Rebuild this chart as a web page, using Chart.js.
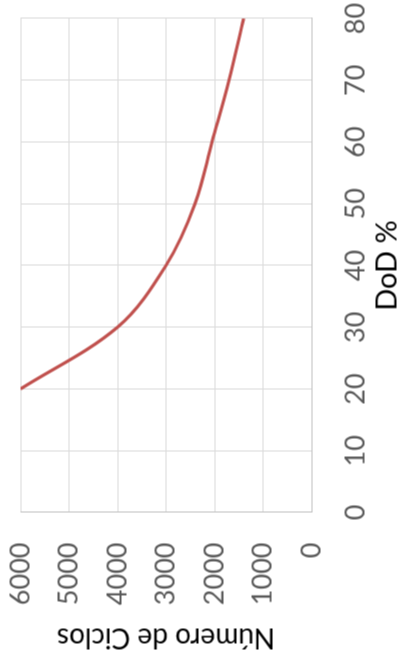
<!DOCTYPE html>
<html>
<head>
<meta charset="utf-8">
<script src="https://cdn.jsdelivr.net/npm/chart.js@4"></script>
<style>
    html, body { margin: 0; padding: 0; background: #fff; overflow: hidden; }
    #wrap {
        position: absolute;
        left: -132.5px;
        top: 132.5px;
        width: 666px;
        height: 401px;
        transform: rotate(-90deg);
    }
</style>
</head>
<body>
<div id="wrap"><canvas id="dod-chart" width="666" height="401"></canvas></div>
<script>
'use strict';

// DoD % vs numero de ciclos
const dod = [20, 30, 40, 50, 60, 70, 80];
const ciclos = [6000, 4000, 3000, 2400, 2050, 1700, 1400];
const dodTicks = [0, 10, 20, 30, 40, 50, 60, 70, 80];
const cicloTicks = [0, 1000, 2000, 3000, 4000, 5000, 6000];

const ticksStyle = {
    color: '#595959',
    font: { family: 'Lato', size: 27 },
    callback: (value) => String(value),
};

var points = dod.map((d, i) => ({ x: d, y: ciclos[i] }));

var dodChart = new Chart(document.getElementById('dod-chart'), {
    type: 'scatter',
    data: {
        datasets: [
            {
                data: points,
                showLine: true,
                borderColor: '#C0504D',
                borderWidth: 3.2,
                pointRadius: 0,
                tension: 0.35,
            },
        ],
    },
    options: {
        responsive: false,
        animation: false,
        devicePixelRatio: 1,
        layout: {
            padding: { top: 20, right: 18, left: 0, bottom: 0 },
        },
        scales: {
            x: {
                type: 'linear',
                position: 'bottom',
                min: 0,
                max: 80,
                afterBuildTicks: (scale) => {
                    scale.ticks = dodTicks.map((v) => ({ value: v }));
                },
                afterFit: (scale) => {
                    scale.height = 90;
                    scale.paddingLeft = 0;
                    scale.paddingRight = 0;
                },
                grid: { color: '#D9D9D9', lineWidth: 1, drawTicks: false },
                border: { color: '#BFBFBF', width: 1 },
                ticks: Object.assign({ padding: 28, maxRotation: 0 }, ticksStyle),
                title: {
                    display: true,
                    text: 'DoD %',
                    color: '#000',
                    font: { family: 'Lato', size: 29, lineHeight: 1 },
                    padding: { top: 0, bottom: 0 },
                },
            },
            y: {
                type: 'linear',
                min: 0,
                max: 6000,
                afterBuildTicks: (scale) => {
                    scale.ticks = cicloTicks.map((v) => ({ value: v }));
                },
                afterFit: (scale) => {
                    scale.width = 154;
                    scale.paddingTop = 0;
                    scale.paddingBottom = 0;
                },
                grid: { color: '#D9D9D9', lineWidth: 1, drawTicks: false },
                border: { color: '#BFBFBF', width: 1 },
                ticks: Object.assign({ padding: 30 }, ticksStyle),
                title: {
                    display: true,
                    text: 'Número de Ciclos',
                    color: '#000',
                    font: { family: 'Lato', size: 28, lineHeight: 1 },
                    padding: { top: 15, bottom: 0 },
                },
            },
        },
        plugins: {
            legend: { display: false },
            tooltip: { enabled: false },
        },
    },
});
</script>
</body>
</html>
